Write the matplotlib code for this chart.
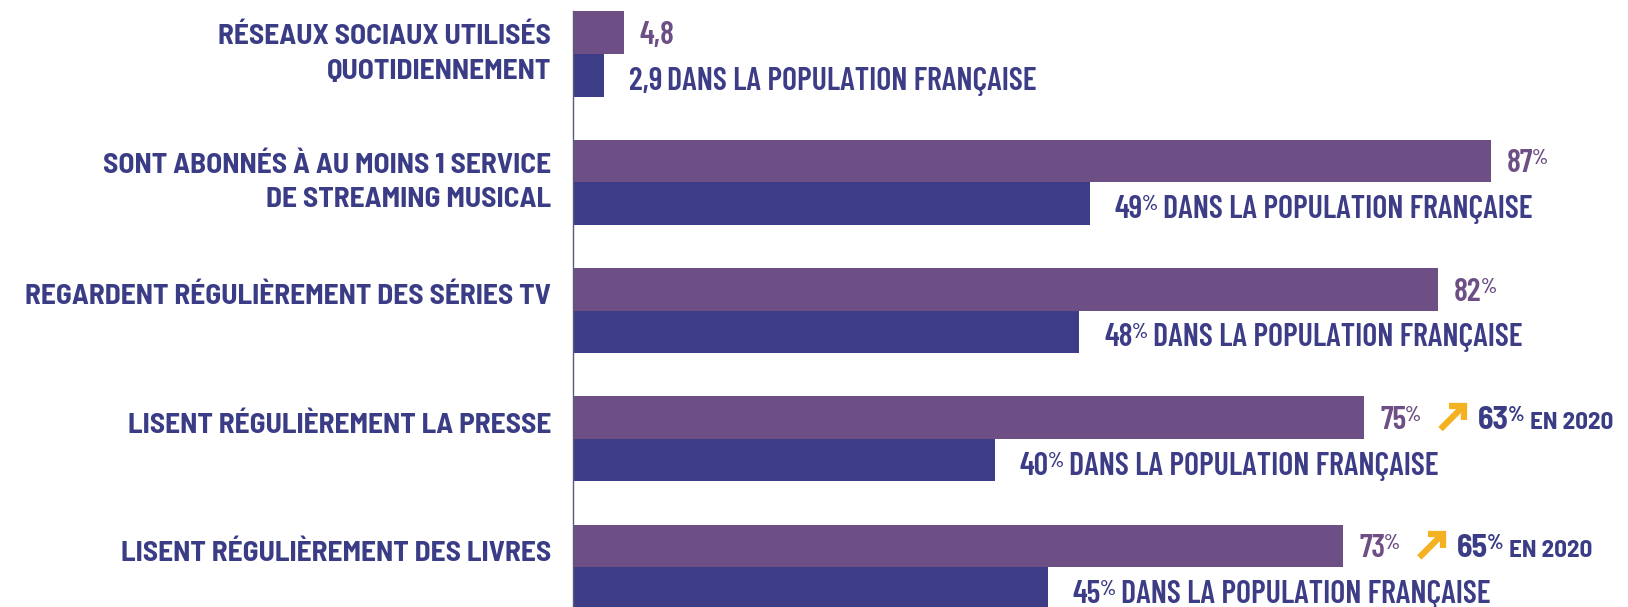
import matplotlib
matplotlib.use('Agg')
import matplotlib.pyplot as plt

# Data read from the infographic
categories = [
    'RÉSEAUX SOCIAUX UTILISÉS\nQUOTIDIENNEMENT',
    'SONT ABONNÉS À AU MOINS 1 SERVICE\nDE STREAMING MUSICAL',
    'REGARDENT RÉGULIÈREMENT DES SÉRIES TV',
    'LISENT RÉGULIÈREMENT LA PRESSE',
    'LISENT RÉGULIÈREMENT DES LIVRES',
]
group_values = [4.8, 87, 82, 75, 73]
population_values = [2.9, 49, 48, 40, 45]
is_percent = [False, True, True, True, True]
values_2020 = [None, None, None, 63, 65]

PURPLE = '#6e4f85'
BLUE = '#3d3d87'
TEXT = '#3b3c86'
ORANGE = '#f4b223'
CAT_FONT = ['Barlow Semi Condensed', 'DejaVu Sans']
VAL_FONT = ['Barlow Condensed', 'DejaVu Sans']
DPI = 100


def pt(pixels):
    return pixels * 72 / DPI


def fmt(v):
    return ('%g' % v).replace('.', ',')


def chain(ax, x, y, pieces):
    # pieces: (text, fontsize, color, gap_px, rise_px, family, weight)
    prev = None
    out = []
    for text, size, color, gap, rise, family, weight in pieces:
        if prev is None:
            xy, xyc = (x, y), 'data'
        else:
            xy, xyc = (1, y), (prev, 'data')
        prev = ax.annotate(text, xy=xy, xycoords=xyc,
                           xytext=(pt(gap), pt(rise)), textcoords='offset points',
                           ha='left', va='baseline', fontsize=size, color=color,
                           fontweight=weight, family=family, annotation_clip=False)
        out.append(prev)
    return out


fig = plt.figure(figsize=(16.28, 6.07), dpi=DPI)
ax = fig.add_axes([573 / 1628, 0, 1 - 573 / 1628, 1])

h = 0.332
n = len(categories)
ys = list(range(n))
ax.barh([y - h / 2 for y in ys], group_values, height=h, color=PURPLE)
ax.barh([y + h / 2 for y in ys], population_values, height=h, color=BLUE)

ax.set_xlim(0, 100)
ax.set_ylim(4.31, -0.42)
for s in ['top', 'right', 'bottom']:
    ax.spines[s].set_visible(False)
ax.spines['left'].set_color('#5a5a7a')
ax.spines['left'].set_linewidth(1)
ax.spines['left'].set_bounds(-h, 4.31)
ax.set_xticks([])
ax.set_yticks([])

VS = 23     # value font size
SUP = 15    # superscript % size
cap = 23    # cap height px of value text

arrow_slots = []
for i, cat in enumerate(categories):
    dy = 0 if '\n' in cat else 14
    ax.annotate(cat, xy=(0, i), xytext=(-pt(22), pt(dy)), textcoords='offset points',
                ha='right', va='center', multialignment='right', linespacing=1.47,
                fontsize=21.2, fontweight='bold', color=TEXT, family=CAT_FONT,
                annotation_clip=False)

    # purple value, with the 2020 comparison when there is one
    pieces = [(fmt(group_values[i]), VS, PURPLE, 16, -cap / 2, VAL_FONT, 'semibold')]
    if is_percent[i]:
        pieces.append(('%', SUP, PURPLE, -1, -cap / 2 + 8, VAL_FONT, 'semibold'))
    if values_2020[i] is not None:
        pieces.append(('MM', 17, 'none', 18, -cap / 2, VAL_FONT, 'semibold'))
        pieces.append((str(values_2020[i]), VS, TEXT, 13, -cap / 2, CAT_FONT, 'bold'))
        pieces.append(('%', SUP, TEXT, -1, -cap / 2 + 8, CAT_FONT, 'bold'))
        pieces.append(('EN 2020', 18, TEXT, 6, -cap / 2, CAT_FONT, 'bold'))
    arts = chain(ax, group_values[i], i - h / 2, pieces)
    if values_2020[i] is not None:
        arrow_slots.append((arts[2], i - h / 2))

    # population value
    pieces = [(fmt(population_values[i]), VS, BLUE, 25, -cap / 2 - 3, VAL_FONT, 'semibold')]
    if is_percent[i]:
        pieces.append(('%', SUP, BLUE, -1, -cap / 2 + 5, VAL_FONT, 'semibold'))
    pieces.append(('DANS LA POPULATION FRANÇAISE', VS, BLUE, 5, -cap / 2 - 3, VAL_FONT, 'semibold'))
    chain(ax, population_values[i], i + h / 2, pieces)

# orange "up" arrows, drawn in pixel space inside the reserved slot
fig.canvas.draw()
for holder, yb in arrow_slots:
    bb = holder.get_window_extent()
    base = ax.transData.transform((0, yb))[1] - cap / 2
    x0, x1 = bb.x0 + 1, bb.x1 - 1
    size = x1 - x0
    y0, y1 = base, base + size
    arm = size * 0.62
    ax.plot([x0, x1 - 2], [y0, y1 - 2], transform=None, color=ORANGE, lw=4.5,
            solid_capstyle='butt', clip_on=False)
    ax.plot([x1 - arm, x1, x1], [y1, y1, y1 - arm], transform=None, color=ORANGE, lw=4.5,
            solid_joinstyle='miter', solid_capstyle='butt', clip_on=False)

fig.savefig('out.png', dpi=DPI)
